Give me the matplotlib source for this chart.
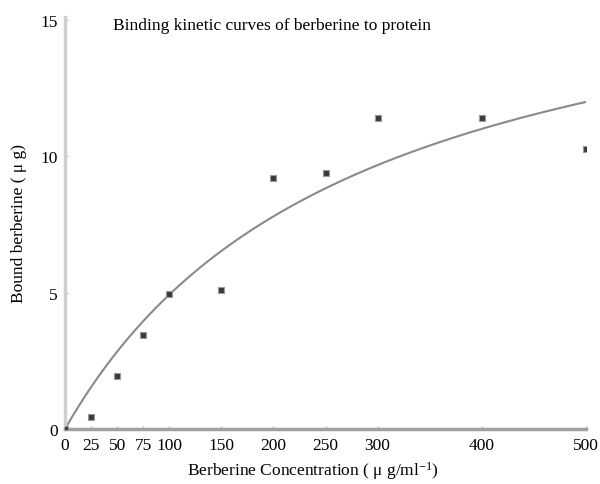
import matplotlib
matplotlib.use("Agg")
import matplotlib.pyplot as plt
import numpy as np

# data
conc = [0, 25, 50, 75, 100, 150, 200, 250, 300, 400, 500]
bound = [0.0, 0.45, 1.93, 3.44, 4.96, 5.1, 9.2, 9.38, 11.39, 11.39, 10.26]
x_ticks = [0, 25, 50, 75, 100, 150, 200, 250, 300, 400, 500]
y_ticks = [0, 5, 10, 15]
# hyperbolic fit parameters (Bmax, Kd)
fit_bmax = 18.7
fit_kd = 280.0

plt.rcParams['font.family'] = ['Liberation Serif', 'DejaVu Serif']
plt.rcParams['mathtext.fontset'] = 'custom'
plt.rcParams['mathtext.rm'] = 'Liberation Serif'
plt.rcParams['mathtext.it'] = 'Liberation Serif:italic'

fig = plt.figure(figsize=(6, 4.85), dpi=100)
ax = fig.add_axes([65/600, 1-430/485, (586-65)/600, (430-18)/485])

xf = np.linspace(0, 500, 300)
yf = fit_bmax * xf / (fit_kd + xf)
ax.plot(xf, yf, color='#8a8a8a', lw=1.5, zorder=2)
ax.plot(conc, bound, linestyle='none', marker='s', ms=4.5, mfc='#3a3a3a',
        mec='#9a9a9a', mew=0.8, zorder=3)

ax.set_xlim(0, 500)
ax.set_ylim(0, 15.1)
ax.set_xticks(x_ticks)
ax.set_yticks(y_ticks)
ax.tick_params(axis='both', labelsize=12.5, length=2, width=1, color='#bbbbbb', pad=3)
ax.tick_params(axis='x', direction='in', pad=6)
ax.tick_params(axis='y', direction='in', pad=5)

for s in ['top', 'right']:
    ax.spines[s].set_visible(False)
ax.spines['left'].set_color('#cfcfcf')
ax.spines['left'].set_linewidth(2.5)
ax.spines['bottom'].set_color('#a0a0a0')
ax.spines['bottom'].set_linewidth(2.5)

ax.set_xlabel('Berberine Concentration ( \u03bc g/ml$^{-1}$)', fontsize=12.5)
ax.xaxis.set_label_coords(0.476, -0.072)
ax.set_ylabel('Bound berberine ( \u03bc g)', fontsize=12.5, labelpad=10)
ax.text(46, 14.82, 'Binding kinetic curves of berberine to protein', fontsize=12.5,
        ha='left', va='center')

fig.savefig('out.png', dpi=100)
